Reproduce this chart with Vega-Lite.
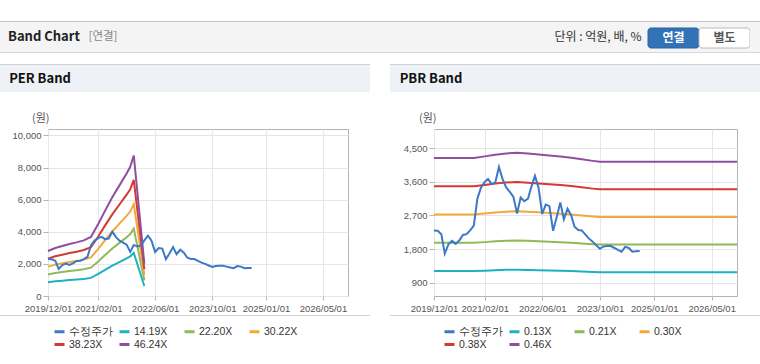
{
  "$schema": "https://vega.github.io/schema/vega-lite/v6.json",
  "background": "white",
  "padding": {"top": 21, "left": 0, "right": 0, "bottom": 0},
  "config": {
    "font": "Noto Sans CJK KR",
    "view": {"stroke": null},
    "axis": {"labelFont": "Liberation Sans", "labelFontSize": 9.5, "labelColor": "#555555", "domain": false, "grid": true, "gridColor": "#e6e6e6", "tickColor": "#b4b4b4", "title": null}
  },
  "datasets": {
    "price": [
      {"d": "2019-12-01", "v": 2300}, {"d": "2020-01-01", "v": 2290}, {"d": "2020-02-01", "v": 2200}, {"d": "2020-03-01", "v": 1680},
      {"d": "2020-04-01", "v": 1930}, {"d": "2020-05-01", "v": 2020}, {"d": "2020-06-01", "v": 1940}, {"d": "2020-07-01", "v": 2030},
      {"d": "2020-08-01", "v": 2180}, {"d": "2020-09-01", "v": 2200}, {"d": "2020-10-01", "v": 2300}, {"d": "2020-11-01", "v": 2430},
      {"d": "2020-12-01", "v": 3150}, {"d": "2021-01-01", "v": 3450}, {"d": "2021-02-01", "v": 3600}, {"d": "2021-03-01", "v": 3680},
      {"d": "2021-04-01", "v": 3540}, {"d": "2021-05-01", "v": 3580}, {"d": "2021-06-01", "v": 4000}, {"d": "2021-07-01", "v": 3680},
      {"d": "2021-08-01", "v": 3450}, {"d": "2021-09-01", "v": 3330}, {"d": "2021-10-01", "v": 3200}, {"d": "2021-11-01", "v": 2750},
      {"d": "2021-12-01", "v": 3180}, {"d": "2022-01-01", "v": 3080}, {"d": "2022-02-01", "v": 3150}, {"d": "2022-03-01", "v": 3460},
      {"d": "2022-04-01", "v": 3760}, {"d": "2022-05-01", "v": 3450}, {"d": "2022-06-01", "v": 2740}, {"d": "2022-07-01", "v": 2990},
      {"d": "2022-08-01", "v": 2950}, {"d": "2022-09-01", "v": 2290}, {"d": "2022-10-01", "v": 2650}, {"d": "2022-11-01", "v": 3050},
      {"d": "2022-12-01", "v": 2600}, {"d": "2023-01-01", "v": 2880}, {"d": "2023-02-01", "v": 2700}, {"d": "2023-03-01", "v": 2400},
      {"d": "2023-04-01", "v": 2310}, {"d": "2023-05-01", "v": 2300}, {"d": "2023-06-01", "v": 2190}, {"d": "2023-07-01", "v": 2080},
      {"d": "2023-08-01", "v": 2000}, {"d": "2023-09-01", "v": 1900}, {"d": "2023-10-01", "v": 1810}, {"d": "2023-11-01", "v": 1870},
      {"d": "2023-12-01", "v": 1880}, {"d": "2024-01-01", "v": 1880}, {"d": "2024-02-01", "v": 1830}, {"d": "2024-03-01", "v": 1780},
      {"d": "2024-04-01", "v": 1730}, {"d": "2024-05-01", "v": 1860}, {"d": "2024-06-01", "v": 1830}, {"d": "2024-07-01", "v": 1730},
      {"d": "2024-08-01", "v": 1740}, {"d": "2024-09-01", "v": 1750}
    ],
    "perb": [
      {"d": "2019-12-01", "s": "14.19X", "v": 860}, {"d": "2020-02-01", "s": "14.19X", "v": 917}, {"d": "2020-04-01", "s": "14.19X", "v": 955},
      {"d": "2020-06-01", "s": "14.19X", "v": 993}, {"d": "2020-08-01", "s": "14.19X", "v": 1025}, {"d": "2020-10-01", "s": "14.19X", "v": 1063},
      {"d": "2020-12-01", "s": "14.19X", "v": 1128}, {"d": "2021-02-01", "s": "14.19X", "v": 1376}, {"d": "2021-04-01", "s": "14.19X", "v": 1632},
      {"d": "2021-06-01", "s": "14.19X", "v": 1887}, {"d": "2021-08-01", "s": "14.19X", "v": 2114}, {"d": "2021-10-01", "s": "14.19X", "v": 2341},
      {"d": "2021-11-01", "s": "14.19X", "v": 2469}, {"d": "2021-12-01", "s": "14.19X", "v": 2686}, {"d": "2022-03-01", "s": "14.19X", "v": 620},
      {"d": "2019-12-01", "s": "22.20X", "v": 1345}, {"d": "2020-02-01", "s": "22.20X", "v": 1434}, {"d": "2020-04-01", "s": "22.20X", "v": 1494},
      {"d": "2020-06-01", "s": "22.20X", "v": 1554}, {"d": "2020-08-01", "s": "22.20X", "v": 1603}, {"d": "2020-10-01", "s": "22.20X", "v": 1663},
      {"d": "2020-12-01", "s": "22.20X", "v": 1765}, {"d": "2021-02-01", "s": "22.20X", "v": 2153}, {"d": "2021-04-01", "s": "22.20X", "v": 2553},
      {"d": "2021-06-01", "s": "22.20X", "v": 2953}, {"d": "2021-08-01", "s": "22.20X", "v": 3308}, {"d": "2021-10-01", "s": "22.20X", "v": 3663},
      {"d": "2021-11-01", "s": "22.20X", "v": 3863}, {"d": "2021-12-01", "s": "22.20X", "v": 4203}, {"d": "2022-03-01", "s": "22.20X", "v": 970},
      {"d": "2019-12-01", "s": "30.22X", "v": 1831}, {"d": "2020-02-01", "s": "30.22X", "v": 1952}, {"d": "2020-04-01", "s": "30.22X", "v": 2034},
      {"d": "2020-06-01", "s": "30.22X", "v": 2115}, {"d": "2020-08-01", "s": "30.22X", "v": 2182}, {"d": "2020-10-01", "s": "30.22X", "v": 2264},
      {"d": "2020-12-01", "s": "30.22X", "v": 2403}, {"d": "2021-02-01", "s": "30.22X", "v": 2931}, {"d": "2021-04-01", "s": "30.22X", "v": 3475},
      {"d": "2021-06-01", "s": "30.22X", "v": 4019}, {"d": "2021-08-01", "s": "30.22X", "v": 4503}, {"d": "2021-10-01", "s": "30.22X", "v": 4986},
      {"d": "2021-11-01", "s": "30.22X", "v": 5258}, {"d": "2021-12-01", "s": "30.22X", "v": 5721}, {"d": "2022-03-01", "s": "30.22X", "v": 1321},
      {"d": "2019-12-01", "s": "38.23X", "v": 2317}, {"d": "2020-02-01", "s": "38.23X", "v": 2470}, {"d": "2020-04-01", "s": "38.23X", "v": 2573},
      {"d": "2020-06-01", "s": "38.23X", "v": 2676}, {"d": "2020-08-01", "s": "38.23X", "v": 2760}, {"d": "2020-10-01", "s": "38.23X", "v": 2863},
      {"d": "2020-12-01", "s": "38.23X", "v": 3039}, {"d": "2021-02-01", "s": "38.23X", "v": 3708}, {"d": "2021-04-01", "s": "38.23X", "v": 4397},
      {"d": "2021-06-01", "s": "38.23X", "v": 5085}, {"d": "2021-08-01", "s": "38.23X", "v": 5696}, {"d": "2021-10-01", "s": "38.23X", "v": 6308},
      {"d": "2021-11-01", "s": "38.23X", "v": 6652}, {"d": "2021-12-01", "s": "38.23X", "v": 7237}, {"d": "2022-03-01", "s": "38.23X", "v": 1671},
      {"d": "2019-12-01", "s": "46.24X", "v": 2802}, {"d": "2020-02-01", "s": "46.24X", "v": 2987}, {"d": "2020-04-01", "s": "46.24X", "v": 3112},
      {"d": "2020-06-01", "s": "46.24X", "v": 3237}, {"d": "2020-08-01", "s": "46.24X", "v": 3339}, {"d": "2020-10-01", "s": "46.24X", "v": 3463},
      {"d": "2020-12-01", "s": "46.24X", "v": 3676}, {"d": "2021-02-01", "s": "46.24X", "v": 4485}, {"d": "2021-04-01", "s": "46.24X", "v": 5318},
      {"d": "2021-06-01", "s": "46.24X", "v": 6150}, {"d": "2021-08-01", "s": "46.24X", "v": 6890}, {"d": "2021-10-01", "s": "46.24X", "v": 7630},
      {"d": "2021-11-01", "s": "46.24X", "v": 8046}, {"d": "2021-12-01", "s": "46.24X", "v": 8753}, {"d": "2022-03-01", "s": "46.24X", "v": 2021}
    ],
    "pbrb": [
      {"d": "2019-12-01", "s": "0.13X", "v": 1211}, {"d": "2020-11-01", "s": "0.13X", "v": 1211}, {"d": "2021-02-01", "s": "0.13X", "v": 1223},
      {"d": "2021-05-01", "s": "0.13X", "v": 1236}, {"d": "2021-08-01", "s": "0.13X", "v": 1245}, {"d": "2021-11-01", "s": "0.13X", "v": 1250},
      {"d": "2022-02-01", "s": "0.13X", "v": 1244}, {"d": "2022-05-01", "s": "0.13X", "v": 1237}, {"d": "2022-08-01", "s": "0.13X", "v": 1229},
      {"d": "2022-11-01", "s": "0.13X", "v": 1221}, {"d": "2023-02-01", "s": "0.13X", "v": 1212}, {"d": "2023-05-01", "s": "0.13X", "v": 1200},
      {"d": "2023-08-01", "s": "0.13X", "v": 1188}, {"d": "2023-10-01", "s": "0.13X", "v": 1182}, {"d": "2026-12-01", "s": "0.13X", "v": 1182},
      {"d": "2019-12-01", "s": "0.21X", "v": 1968}, {"d": "2020-11-01", "s": "0.21X", "v": 1968}, {"d": "2021-02-01", "s": "0.21X", "v": 1987},
      {"d": "2021-05-01", "s": "0.21X", "v": 2009}, {"d": "2021-08-01", "s": "0.21X", "v": 2024}, {"d": "2021-11-01", "s": "0.21X", "v": 2032},
      {"d": "2022-02-01", "s": "0.21X", "v": 2021}, {"d": "2022-05-01", "s": "0.21X", "v": 2011}, {"d": "2022-08-01", "s": "0.21X", "v": 1998},
      {"d": "2022-11-01", "s": "0.21X", "v": 1985}, {"d": "2023-02-01", "s": "0.21X", "v": 1970}, {"d": "2023-05-01", "s": "0.21X", "v": 1951},
      {"d": "2023-08-01", "s": "0.21X", "v": 1932}, {"d": "2023-10-01", "s": "0.21X", "v": 1921}, {"d": "2026-12-01", "s": "0.21X", "v": 1921},
      {"d": "2019-12-01", "s": "0.30X", "v": 2725}, {"d": "2020-11-01", "s": "0.30X", "v": 2725}, {"d": "2021-02-01", "s": "0.30X", "v": 2752},
      {"d": "2021-05-01", "s": "0.30X", "v": 2781}, {"d": "2021-08-01", "s": "0.30X", "v": 2802}, {"d": "2021-11-01", "s": "0.30X", "v": 2814},
      {"d": "2022-02-01", "s": "0.30X", "v": 2799}, {"d": "2022-05-01", "s": "0.30X", "v": 2784}, {"d": "2022-08-01", "s": "0.30X", "v": 2767},
      {"d": "2022-11-01", "s": "0.30X", "v": 2749}, {"d": "2023-02-01", "s": "0.30X", "v": 2728}, {"d": "2023-05-01", "s": "0.30X", "v": 2701},
      {"d": "2023-08-01", "s": "0.30X", "v": 2675}, {"d": "2023-10-01", "s": "0.30X", "v": 2660}, {"d": "2026-12-01", "s": "0.30X", "v": 2660},
      {"d": "2019-12-01", "s": "0.38X", "v": 3483}, {"d": "2020-11-01", "s": "0.38X", "v": 3483}, {"d": "2021-02-01", "s": "0.38X", "v": 3517},
      {"d": "2021-05-01", "s": "0.38X", "v": 3555}, {"d": "2021-08-01", "s": "0.38X", "v": 3582}, {"d": "2021-11-01", "s": "0.38X", "v": 3597},
      {"d": "2022-02-01", "s": "0.38X", "v": 3578}, {"d": "2022-05-01", "s": "0.38X", "v": 3559}, {"d": "2022-08-01", "s": "0.38X", "v": 3536},
      {"d": "2022-11-01", "s": "0.38X", "v": 3513}, {"d": "2023-02-01", "s": "0.38X", "v": 3487}, {"d": "2023-05-01", "s": "0.38X", "v": 3453},
      {"d": "2023-08-01", "s": "0.38X", "v": 3419}, {"d": "2023-10-01", "s": "0.38X", "v": 3400}, {"d": "2026-12-01", "s": "0.38X", "v": 3400},
      {"d": "2019-12-01", "s": "0.46X", "v": 4240}, {"d": "2020-11-01", "s": "0.46X", "v": 4240}, {"d": "2021-02-01", "s": "0.46X", "v": 4282},
      {"d": "2021-05-01", "s": "0.46X", "v": 4328}, {"d": "2021-08-01", "s": "0.46X", "v": 4360}, {"d": "2021-11-01", "s": "0.46X", "v": 4379},
      {"d": "2022-02-01", "s": "0.46X", "v": 4356}, {"d": "2022-05-01", "s": "0.46X", "v": 4333}, {"d": "2022-08-01", "s": "0.46X", "v": 4305},
      {"d": "2022-11-01", "s": "0.46X", "v": 4277}, {"d": "2023-02-01", "s": "0.46X", "v": 4245}, {"d": "2023-05-01", "s": "0.46X", "v": 4203},
      {"d": "2023-08-01", "s": "0.46X", "v": 4162}, {"d": "2023-10-01", "s": "0.46X", "v": 4139}, {"d": "2026-12-01", "s": "0.46X", "v": 4139}
    ]
  },
  "spacing": 11,
  "resolve": {"scale": {"color": "independent", "fill": "independent", "stroke": "independent"}, "legend": {"color": "independent"}},
  "vconcat": [
    {
      "spacing": 0,
      "vconcat": [
        {"width": 760, "height": 1, "data": {"values": []}, "mark": "rect", "encoding": {}, "view": {"fill": "#c4c4c4", "stroke": null}},
        {
          "spacing": 0,
          "bounds": "flush",
          "hconcat": [
            {"width": 88, "height": 30, "view": {"fill": "#f4f4f4", "stroke": null}, "data": {"values": [{"t": "Band Chart"}]},
             "mark": {"type": "text", "fontSize": 13, "fontWeight": "bold", "color": "#222222"}, "encoding": {"text": {"field": "t"}}},
            {"width": 30, "height": 30, "view": {"fill": "#f4f4f4", "stroke": null}, "data": {"values": [{"t": "[연결]"}]},
             "mark": {"type": "text", "fontSize": 11.5, "color": "#888888"}, "encoding": {"text": {"field": "t"}}},
            {"width": 430, "height": 30, "view": {"fill": "#f4f4f4", "stroke": null}, "data": {"values": []}, "mark": "rect", "encoding": {}},
            {"width": 100, "height": 30, "view": {"fill": "#f4f4f4", "stroke": null}, "data": {"values": [{"t": "단위 : 억원, 배, %"}]},
             "mark": {"type": "text", "fontSize": 12, "color": "#333333"}, "encoding": {"text": {"field": "t"}}},
            {
              "width": 102, "height": 30, "view": {"fill": "#f4f4f4", "stroke": null},
              "data": {"values": [{"b": "연결"}, {"b": "별도"}]},
              "encoding": {
                "x": {"field": "b", "type": "nominal", "sort": null, "scale": {"domain": ["연결", "별도"], "paddingInner": 0, "paddingOuter": 0}, "axis": null},
                "y": {"datum": "btn", "type": "nominal", "scale": {"paddingOuter": 0.25, "paddingInner": 0, "align": 0.6}, "axis": null}
              },
              "layer": [
                {"mark": {"type": "bar", "cornerRadius": 3, "strokeWidth": 1},
                 "encoding": {
                   "fill": {"field": "b", "type": "nominal", "scale": {"domain": ["연결", "별도"], "range": ["#3272b7", "#ffffff"]}, "legend": null},
                   "stroke": {"field": "b", "type": "nominal", "scale": {"domain": ["연결", "별도"], "range": ["#2a62a0", "#bbbbbb"]}, "legend": null}
                 }},
                {"mark": {"type": "text", "fontSize": 12, "fontWeight": "bold"},
                 "encoding": {
                   "text": {"field": "b"},
                   "color": {"field": "b", "type": "nominal", "scale": {"domain": ["연결", "별도"], "range": ["#ffffff", "#555555"]}, "legend": null}
                 }}
              ],
              "resolve": {"scale": {"color": "independent", "fill": "independent", "stroke": "independent"}}
            },
            {"width": 10, "height": 30, "view": {"fill": "#f4f4f4", "stroke": null}, "data": {"values": []}, "mark": "rect", "encoding": {}}
          ]
        },
        {"width": 760, "height": 1, "data": {"values": []}, "mark": "rect", "encoding": {}, "view": {"fill": "#d8d8d8", "stroke": null}}
      ]
    },
    {
      "spacing": 20,
      "resolve": {"scale": {"color": "independent"}, "legend": {"color": "independent"}},
      "hconcat": [
        {
          "spacing": 2,
          "vconcat": [
            {
              "spacing": 20,
              "vconcat": [
                {
                  "spacing": 0,
                  "vconcat": [
                    {"width": 370, "height": 1, "data": {"values": []}, "mark": "rect", "encoding": {}, "view": {"fill": "#d0d0d0", "stroke": null}},
                    {
                      "spacing": 0,
                      "hconcat": [
                        {"width": 80, "height": 27, "view": {"fill": "#eef1f6", "stroke": null}, "data": {"values": [{"t": "PER Band"}]},
                         "mark": {"type": "text", "fontSize": 13, "fontWeight": "bold", "color": "#111111"}, "encoding": {"text": {"field": "t"}}},
                        {"width": 290, "height": 27, "view": {"fill": "#eef1f6", "stroke": null}, "data": {"values": []}, "mark": "rect", "encoding": {}}
                      ]
                    }
                  ]
                },
                {
                  "spacing": 0,
                  "bounds": "flush",
                  "hconcat": [
                    {"width": 48, "height": 167, "data": {"values": []}, "mark": "rect", "encoding": {}},
                    {
                      "width": 300, "height": 167,
                      "view": {"fill": "#ffffff", "stroke": "#b4b4b4"},
                      "title": {"text": "(원)", "anchor": "start", "frame": "group", "dx": -16, "offset": 5, "fontSize": 11, "fontWeight": "normal", "color": "#555555"},
                      "encoding": {
                        "x": {"field": "d", "type": "temporal",
                              "scale": {"domain": [{"year": 2019, "month": 12, "date": 1}, {"year": 2026, "month": 12, "date": 1}], "nice": false},
                              "axis": {"values": [{"year": 2019, "month": 12, "date": 1}, {"year": 2021, "month": 2, "date": 1}, {"year": 2022, "month": 6, "date": 1}, {"year": 2023, "month": 10, "date": 1}, {"year": 2025, "month": 1, "date": 1}, {"year": 2026, "month": 5, "date": 1}],
                                       "format": "%Y/%m/%d", "tickSize": 4, "labelPadding": 3, "labelOverlap": false, "labelFlush": false}},
                        "y": {"field": "v", "type": "quantitative", "scale": {"domain": [0, 10400], "nice": false, "zero": false},
                              "axis": {"values": [0, 2000, 4000, 6000, 8000, 10000], "format": ",.0f", "tickSize": 5, "labelPadding": 2}}
                      },
                      "layer": [
                        {"data": {"name": "perb"}, "mark": {"type": "line", "strokeWidth": 2},
                         "encoding": {"color": {"field": "s", "type": "nominal",
                           "scale": {"domain": ["수정주가", "14.19X", "22.20X", "30.22X", "38.23X", "46.24X"], "range": ["#3b78c6", "#1fb0c2", "#8fba59", "#f3a839", "#d43a31", "#904f9d"]},
                           "legend": {"orient": "none", "legendX": 53, "legendY": 261, "direction": "horizontal", "columns": 4, "title": null, "symbolType": "stroke", "symbolStrokeWidth": 3, "symbolSize": 100, "labelFont": "Liberation Sans", "labelFontSize": 10.5, "labelColor": "#333333", "labelOffset": 3, "rowPadding": 0, "columnPadding": 0, "gridAlign": "all", "padding": 0}}}},
                        {"data": {"name": "price"}, "mark": {"type": "line", "strokeWidth": 2},
                         "encoding": {"color": {"datum": "수정주가", "type": "nominal"}}}
                      ]
                    }
                  ]
                }
              ]
            },
            {"width": 370, "height": 1, "data": {"values": []}, "mark": "rect", "encoding": {}, "view": {"fill": "#cfcfcf", "stroke": null}}
          ]
        },
        {
          "spacing": 2,
          "vconcat": [
            {
              "spacing": 20,
              "vconcat": [
                {
                  "spacing": 0,
                  "vconcat": [
                    {"width": 370, "height": 1, "data": {"values": []}, "mark": "rect", "encoding": {}, "view": {"fill": "#d0d0d0", "stroke": null}},
                    {
                      "spacing": 0,
                      "hconcat": [
                        {"width": 82, "height": 27, "view": {"fill": "#eef1f6", "stroke": null}, "data": {"values": [{"t": "PBR Band"}]},
                         "mark": {"type": "text", "fontSize": 13, "fontWeight": "bold", "color": "#111111"}, "encoding": {"text": {"field": "t"}}},
                        {"width": 288, "height": 27, "view": {"fill": "#eef1f6", "stroke": null}, "data": {"values": []}, "mark": "rect", "encoding": {}}
                      ]
                    }
                  ]
                },
                {
                  "spacing": 0,
                  "bounds": "flush",
                  "hconcat": [
                    {"width": 44, "height": 167, "data": {"values": []}, "mark": "rect", "encoding": {}},
                    {
                      "width": 303, "height": 167,
                      "view": {"fill": "#ffffff", "stroke": "#b4b4b4"},
                      "title": {"text": "(원)", "anchor": "start", "frame": "group", "dx": -15, "offset": 5, "fontSize": 11, "fontWeight": "normal", "color": "#555555"},
                      "encoding": {
                        "x": {"field": "d", "type": "temporal",
                              "scale": {"domain": [{"year": 2019, "month": 12, "date": 1}, {"year": 2026, "month": 12, "date": 1}], "nice": false},
                              "axis": {"values": [{"year": 2019, "month": 12, "date": 1}, {"year": 2021, "month": 2, "date": 1}, {"year": 2022, "month": 6, "date": 1}, {"year": 2023, "month": 10, "date": 1}, {"year": 2025, "month": 1, "date": 1}, {"year": 2026, "month": 5, "date": 1}],
                                       "format": "%Y/%m/%d", "tickSize": 4, "labelPadding": 3, "labelOverlap": false, "labelFlush": false}},
                        "y": {"field": "v", "type": "quantitative", "scale": {"domain": [545, 5015], "nice": false, "zero": false},
                              "axis": {"values": [900, 1800, 2700, 3600, 4500], "format": ",.0f", "tickSize": 5, "labelPadding": 2}}
                      },
                      "layer": [
                        {"data": {"name": "pbrb"}, "mark": {"type": "line", "strokeWidth": 2},
                         "encoding": {"color": {"field": "s", "type": "nominal",
                           "scale": {"domain": ["수정주가", "0.13X", "0.21X", "0.30X", "0.38X", "0.46X"], "range": ["#3b78c6", "#1fb0c2", "#8fba59", "#f3a839", "#d43a31", "#904f9d"]},
                           "legend": {"orient": "none", "legendX": 53, "legendY": 261, "direction": "horizontal", "columns": 4, "title": null, "symbolType": "stroke", "symbolStrokeWidth": 3, "symbolSize": 100, "labelFont": "Liberation Sans", "labelFontSize": 10.5, "labelColor": "#333333", "labelOffset": 3, "rowPadding": 0, "columnPadding": 0, "gridAlign": "all", "padding": 0}}}},
                        {"data": {"name": "price"}, "mark": {"type": "line", "strokeWidth": 2},
                         "encoding": {"color": {"datum": "수정주가", "type": "nominal"}}}
                      ]
                    }
                  ]
                }
              ]
            },
            {"width": 370, "height": 1, "data": {"values": []}, "mark": "rect", "encoding": {}, "view": {"fill": "#cfcfcf", "stroke": null}}
          ]
        }
      ]
    }
  ]
}
